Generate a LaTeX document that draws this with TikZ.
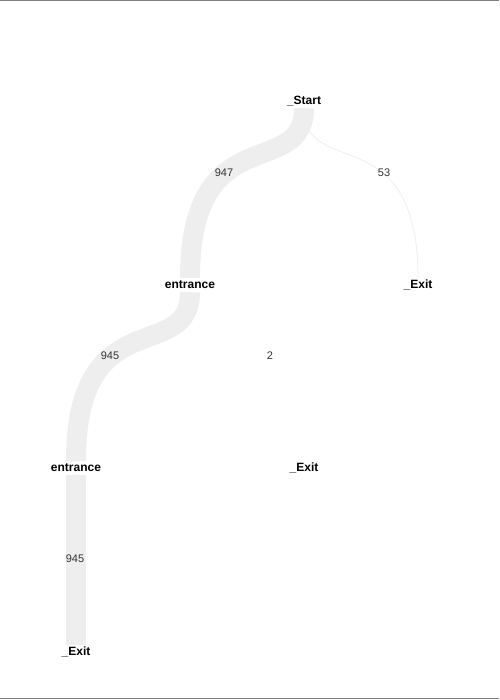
\documentclass[tikz,border=0pt]{standalone}
\usepackage{fontspec}
\setmainfont{Liberation Sans}
\usepackage{xcolor}
\usepackage{tikz}
\usetikzlibrary{positioning}
\definecolor{flowgray}{HTML}{EEEEEE}
\definecolor{framegray}{HTML}{808080}

\begin{document}
\begin{tikzpicture}[
  x=1pt, y=-1pt,
  act/.style={font=\bfseries\fontsize{12}{14}\selectfont, minimum height=14pt, inner sep=0pt},
  cnt/.style={font=\fontsize{11}{13}\selectfont, text=black!80, inner sep=0pt},
  heavy/.style={draw=flowgray, line width=20pt},
  light/.style={draw=flowgray, line width=0.8pt},
  trace/.style={draw=flowgray, draw opacity=0.15, line width=0.05pt},
  frame/.style={draw=framegray, line width=1pt}
]
  \useasboundingbox (0,0) rectangle (499,700);
  \draw[frame] (0,0.5) -- (499,0.5);
  \draw[frame] (0,698.5) -- (499,698.5);

  \node[act] (st)  at (304,101) {\_Start};
  \node[act] (en1) at (190,285) {entrance};
  \node[act] (ex1) at (418,285) {\_Exit};
  \node[act] (en2) at (76,468)  {entrance};
  \node[act] (ex2) at (304,468) {\_Exit};
  \node[act] (ex3) at (76,652)  {\_Exit};

  \draw[light] (st.south) .. controls +(0,73) and +(0,-162) .. (ex1.north);
  \draw[heavy] (st.south) .. controls +(0,73) and +(0,-162) .. (en1.north);
  \draw[trace] (en1.south) .. controls +(0,73) and +(0,-162) .. (ex2.north);
  \draw[heavy] (en1.south) .. controls +(0,73) and +(0,-162) .. (en2.north);
  \draw[heavy] (en2.south) -- (ex3.north);

  \node[cnt] (c1) at (224,173) {947};
  \node[cnt] (c2) at (384,173) {53};
  \node[cnt] (c3) at (110,356) {945};
  \node[cnt] (c4) at (270,356) {2};
  \node[cnt] (c5) at (75,559)  {945};
\end{tikzpicture}
\end{document}
